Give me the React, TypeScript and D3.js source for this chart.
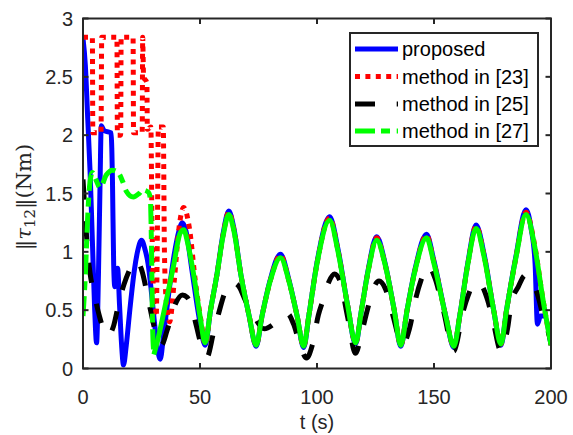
import React from 'react';
import * as d3 from 'd3';

const X_TICKS = [0, 50, 100, 150, 200];
const Y_TICKS = [0, 0.5, 1, 1.5, 2, 2.5, 3];
const Y_TICK_LABELS = ['0', '0.5', '1', '1.5', '2', '2.5', '3'];
const SERIES_NAMES = ['proposed', 'method in [23]', 'method in [25]', 'method in [27]'];

const PROPOSED_T = [0, 1, 2, 3, 4, 5, 5.8, 6.6, 7.3, 7.8, 9, 12, 12.6, 13.1, 13.6, 14.3, 14.8, 15.6, 16.5, 17.3, 18.5, 20, 22, 23.5, 25, 26.5, 27.8, 29, 30.5, 32, 33, 34.5, 36.5, 39, 41, 42.5, 44, 46.5, 49.5, 52.2,
  54.5, 57.2, 60, 62.3, 64.5, 67.5, 71, 74, 76.5, 80, 84.4, 88, 91.5, 94.3, 96.5, 100, 105.4, 109, 113, 116.5, 119, 122, 125.5, 129, 133, 135.8, 138.5, 142, 146.8, 150, 155, 158.5, 161, 164.5, 168, 171.5, 175.5, 178.6, 181, 185, 189.3, 191.5, 193.2, 194.2, 195.5, 197, 200];
const PROPOSED_V = [2.83, 2.6, 2.15, 1.7, 1.1, 0.5, 0.22, 0.8, 1.6, 2.08, 2.04, 2.02, 1.6, 0.9, 0.7, 0.75, 0.86, 0.55, 0.2, 0.03, 0.2, 0.5, 0.85, 1.02, 1.1, 1.02, 0.9, 0.7, 0.4, 0.15, 0.08, 0.3, 0.62, 0.98, 1.18, 1.25, 1.18, 0.85, 0.45, 0.2,
  0.5, 0.8, 1.17, 1.35, 1.2, 0.8, 0.45, 0.19, 0.45, 0.76, 0.98, 0.76, 0.45, 0.18, 0.45, 0.91, 1.3, 1.02, 0.55, 0.21, 0.5, 0.86, 1.13, 0.91, 0.5, 0.19, 0.5, 0.86, 1.15, 0.92, 0.45, 0.18, 0.45, 0.91, 1.23, 0.97, 0.5, 0.2, 0.5, 0.96, 1.36, 1.2, 0.9, 0.38, 0.45, 0.45, 0.2];

const M23_T = [0, 4.0, 4.2, 7.7, 8.0, 14.5, 14.7, 16.1, 16.3, 21.4, 21.6, 25.3, 25.5, 25.9, 27.3, 27.5, 29.0, 29.5, 30.7, 31.3, 31.8, 32.2, 34.3, 34.8, 35.5, 37, 39, 41, 43, 45.5, 48, 50.5, 52.2,
  54.5, 57.2, 60, 62.3, 64.5, 67.5, 71, 74, 76.5, 80, 84.4, 88, 91.5, 94.3, 96.5, 100, 105.4, 109, 113, 116.5, 119, 122, 125.5, 129, 133, 135.8, 138.5, 142, 146.8, 150, 155, 158.5, 161, 164.5, 168, 171.5, 175.5, 178.6, 181, 185, 189.3, 193, 196.5, 200];
const M23_V = [2.84, 2.84, 2.02, 2.02, 2.84, 2.84, 2.0, 2.0, 2.84, 2.84, 2.02, 2.02, 2.84, 2.5, 2.45, 2.05, 2.07, 1.2, 0.45, 0.45, 1.2, 2.07, 2.07, 1.0, 0.6, 0.4, 0.75, 1.2, 1.38, 1.2, 0.75, 0.4, 0.21,
  0.5, 0.8, 1.16, 1.34, 1.19, 0.8, 0.45, 0.2, 0.45, 0.75, 0.97, 0.75, 0.45, 0.19, 0.45, 0.9, 1.29, 1.01, 0.55, 0.22, 0.5, 0.85, 1.12, 0.9, 0.5, 0.2, 0.5, 0.85, 1.14, 0.91, 0.45, 0.19, 0.45, 0.9, 1.22, 0.96, 0.5, 0.21, 0.5, 0.95, 1.34, 1.06, 0.6, 0.2];

const M25_T = [0, 1, 2, 3, 5, 7, 8.5, 10.5, 13, 15.5, 17.5, 20, 22.5, 25, 28, 30.5, 33.5, 36, 39, 42.5, 44.5, 46.5, 48.5, 51, 53, 55.7, 57.8, 60.8, 63.5, 66.4, 69.5, 72.8, 74.8, 77.5, 81.4, 84.5, 87.4, 90, 92.5, 95.5, 98, 100.6, 102.5, 105, 107.5, 110, 113, 116.5, 119, 121.5, 124, 126.5, 129.3, 132.5, 136.5, 139.5, 142.2, 144.5, 147.5, 150.5, 154, 158.5, 162.3, 164.5, 167.5, 170, 173, 175.5, 178.6, 181.5, 183, 186, 189, 191.5, 194.3, 196.5, 198.6, 200];
const M25_V = [1.62, 1.3, 1.0, 0.82, 0.62, 0.45, 0.35, 0.28, 0.36, 0.58, 0.72, 0.85, 0.93, 0.85, 0.58, 0.35, 0.2, 0.33, 0.53, 0.63, 0.61, 0.52, 0.36, 0.17, 0.1, 0.3, 0.46, 0.66, 0.74, 0.71, 0.58, 0.47, 0.39, 0.34, 0.38, 0.44, 0.47, 0.38, 0.22, 0.09, 0.2, 0.46, 0.58, 0.74, 0.81, 0.74, 0.45, 0.13, 0.3, 0.5, 0.68, 0.75, 0.68, 0.45, 0.2, 0.34, 0.6, 0.76, 0.88, 0.77, 0.5, 0.15, 0.48, 0.62, 0.74, 0.72, 0.58, 0.38, 0.15, 0.35, 0.56, 0.7, 0.8, 0.76, 0.63, 0.46, 0.33, 0.22];

const M27_T = [0, 1, 2, 3, 4, 5.5, 7.3, 10, 12.5, 15, 17, 18.5, 21.5, 24, 25.5, 28, 28.8, 29.3, 29.7, 30.3, 32, 34.4, 38.7, 41.5, 43, 45, 47.5, 50, 52.2,
  54.5, 57.2, 60, 62.3, 64.5, 67.5, 71, 74, 76.5, 80, 84.4, 88, 91.5, 94.3, 96.5, 100, 105.4, 109, 113, 116.5, 119, 122, 125.5, 129, 133, 135.8, 138.5, 142, 146.8, 150, 155, 158.5, 161, 164.5, 168, 171.5, 175.5, 178.6, 181, 185, 189.3, 193, 196.5, 200];
const M27_V = [0.45, 0.8, 1.3, 1.6, 1.68, 1.62, 1.55, 1.66, 1.7, 1.68, 1.6, 1.52, 1.47, 1.5, 1.53, 1.51, 1.45, 1.0, 0.4, 0.12, 0.25, 0.47, 0.88, 1.16, 1.19, 1.05, 0.78, 0.45, 0.22,
  0.5, 0.8, 1.15, 1.32, 1.18, 0.8, 0.45, 0.2, 0.45, 0.75, 0.95, 0.75, 0.45, 0.19, 0.45, 0.9, 1.27, 1.0, 0.55, 0.22, 0.5, 0.85, 1.1, 0.9, 0.5, 0.2, 0.5, 0.85, 1.12, 0.9, 0.45, 0.19, 0.45, 0.9, 1.2, 0.95, 0.5, 0.21, 0.5, 0.95, 1.32, 1.05, 0.6, 0.2];

// solidFrom: time after which the dense data renders as a visually solid stroke
const SERIES = [
  { name: SERIES_NAMES[0], t: PROPOSED_T, v: PROPOSED_V, color: '#0000FF', dash: 'none', solidFrom: Infinity },
  { name: SERIES_NAMES[1], t: M23_T, v: M23_V, color: '#FF0000', dash: '5,5.4', solidFrom: Infinity },
  { name: SERIES_NAMES[2], t: M25_T, v: M25_V, color: '#000000', dash: '20,21.7', solidFrom: Infinity },
  { name: SERIES_NAMES[3], t: M27_T, v: M27_V, color: '#00FF00', dash: '20,6,9,6.7', solidFrom: 30.3 },
];

const W = 573;
const H = 435;
const AX = '#262626';

export default function App() {
  const x = d3.scaleLinear().domain([0, 200]).range([83, 551]);
  const y = d3.scaleLinear().domain([0, 3]).range([368.5, 18.5]);
  const line = d3
    .line<[number, number]>()
    .x((d) => x(d[0]))
    .y((d) => y(d[1]))
    .curve(d3.curveMonotoneX);

  const [x0, x1] = x.range();
  const [yb, yt] = y.range();
  const tick = 5.5;
  const font = 'Liberation Sans, Arial, Helvetica, sans-serif';

  const legX = 350, legY = 33, legW = 188, legH = 113;
  const rowY = [49, 76.5, 104, 131];

  const paths: { key: string; d: string; color: string; dash: string }[] = [];
  SERIES.forEach((s) => {
    const pts = s.t.map((t, i) => [t, s.v[i]] as [number, number]);
    const a = pts.filter((p) => p[0] <= s.solidFrom);
    const b = pts.filter((p) => p[0] >= s.solidFrom);
    paths.push({ key: s.name + 'a', d: line(a) || '', color: s.color, dash: s.dash });
    if (b.length > 1) paths.push({ key: s.name + 'b', d: line(b) || '', color: s.color, dash: 'none' });
  });

  return (
    <svg width={W} height={H} style={{ position: 'absolute', left: 0, top: 0, background: '#fff' }}>
      <defs>
        <clipPath id="plotclip">
          <rect x={x0} y={yt} width={x1 - x0} height={yb - yt} />
        </clipPath>
      </defs>
      <rect x={0} y={0} width={W} height={H} fill="#fff" />
      <g clipPath="url(#plotclip)">
        {paths.map((p) => (
          <path
            key={p.key}
            d={p.d}
            fill="none"
            stroke={p.color}
            strokeWidth={5}
            strokeDasharray={p.dash}
            strokeLinejoin="round"
          />
        ))}
      </g>
      <rect x={x0} y={yt} width={x1 - x0} height={yb - yt} fill="none" stroke={AX} strokeWidth={2} />
      {X_TICKS.map((t) => (
        <g key={'xt' + t}>
          <line x1={x(t)} x2={x(t)} y1={yb} y2={yb - tick} stroke={AX} strokeWidth={2} />
          <line x1={x(t)} x2={x(t)} y1={yt} y2={yt + tick} stroke={AX} strokeWidth={2} />
          <text x={x(t)} y={404} textAnchor="middle" fontFamily={font} fontSize={20} fill={AX}>
            {String(t)}
          </text>
        </g>
      ))}
      {Y_TICKS.map((v, i) => (
        <g key={'yt' + v}>
          <line x1={x0} x2={x0 + tick} y1={y(v)} y2={y(v)} stroke={AX} strokeWidth={2} />
          <line x1={x1} x2={x1 - tick} y1={y(v)} y2={y(v)} stroke={AX} strokeWidth={2} />
          <text x={73} y={y(v) + 7} textAnchor="end" fontFamily={font} fontSize={20} fill={AX}>
            {Y_TICK_LABELS[i]}
          </text>
        </g>
      ))}
      <text x={(x0 + x1) / 2} y={429} textAnchor="middle" fontFamily={font} fontSize={20} fill={AX}>
        t (s)
      </text>
      <text
        transform={`translate(31,197) rotate(-90)`}
        textAnchor="middle"
        fontFamily="DejaVu Serif, Liberation Serif, serif"
        fontSize={21}
        fill={AX}
      >
        <tspan>‖</tspan>
        <tspan fontStyle="italic">τ</tspan>
        <tspan fontSize={15} dy={4}>12</tspan>
        <tspan dy={-4}>‖(Nm)</tspan>
      </text>
      <rect x={legX} y={legY} width={legW} height={legH} fill="#fff" stroke={AX} strokeWidth={2} />
      {SERIES.map((s, i) => (
        <g key={'leg' + i}>
          <line x1={355} x2={398} y1={rowY[i]} y2={rowY[i]} stroke={s.color} strokeWidth={5} strokeDasharray={s.dash} />
          <text x={402} y={rowY[i] + 7} fontFamily={font} fontSize={20} fill="#000">
            {s.name}
          </text>
        </g>
      ))}
    </svg>
  );
}
